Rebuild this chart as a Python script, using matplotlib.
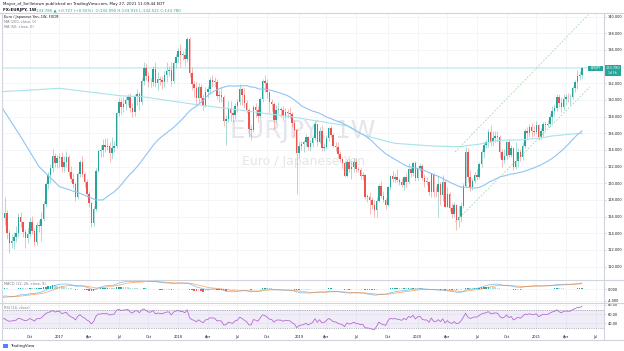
import math
import numpy as np
import pandas as pd
import matplotlib
matplotlib.use("Agg")
import matplotlib.pyplot as plt
from matplotlib.lines import Line2D
from matplotlib.patches import Rectangle

W, H = 624, 351

# EUR/JPY weekly bars, first bar = week of 2016-07-11
first_open = 111.1
close_2016 = [115.8, 116.4, 114.0, 112.8, 113.1, 113.5, 114.0, 115.9, 115.3, 114.2, 113.4, 113.9, 115.3,
              114.3, 112.9, 115.0, 114.9, 115.7, 117.5, 119.9, 121.0, 121.8, 123.3, 122.4, 123.0]
close_2017 = [123.2, 121.9, 122.6, 123.2, 121.4, 120.5, 119.9, 118.4, 121.1, 122.5, 121.1, 120.2, 118.7,
              117.6, 115.2, 116.9, 121.5, 123.9, 124.0, 124.6, 124.4, 124.5, 123.6, 124.2, 124.5, 128.4,
              129.8, 129.1, 129.5, 130.0, 130.3, 129.0, 128.5, 130.4, 130.7, 129.7, 132.3, 133.8, 132.9,
              132.1, 132.1, 133.7, 132.0, 132.5, 132.4, 132.2, 133.0, 133.5, 133.6, 132.3, 134.4, 135.2]
close_2018 = [135.9, 135.4, 135.4, 134.9, 137.3, 133.2, 131.9, 131.4, 130.2, 131.5, 130.2, 129.3, 131.0,
              131.3, 132.4, 132.2, 132.2, 130.5, 130.6, 130.4, 127.5, 127.7, 128.9, 128.4, 128.2, 129.3,
              129.7, 131.3, 130.6, 129.6, 128.8, 126.5, 126.4, 129.2, 128.8, 128.1, 130.1, 132.3, 132.0,
              131.0, 129.7, 129.5, 127.6, 128.8, 128.9, 128.8, 128.1, 128.6, 128.4, 128.3, 127.2, 126.4]
close_2019 = [123.6, 124.5, 124.7, 124.9, 125.5, 124.3, 124.8, 125.4, 127.1, 124.9, 126.3, 124.2, 124.4,
              125.4, 126.6, 125.8, 124.5, 124.4, 123.5, 122.9, 122.4, 120.9, 122.6, 121.7, 122.0, 122.6,
              121.7, 121.6, 120.9, 121.0, 118.4, 118.4, 118.0, 117.4, 116.8, 117.9, 119.7, 118.5, 118.0,
              117.4, 119.5, 120.9, 120.5, 120.7, 120.4, 120.2, 119.8, 120.7, 120.1, 121.7, 121.2, 122.4]
close_2020 = [120.6, 121.8, 122.1, 120.6, 120.2, 120.2, 118.9, 121.1, 119.0, 118.9, 119.9, 118.6, 120.2,
              117.2, 118.7, 117.0, 116.3, 117.4, 115.6, 115.9, 117.3, 119.7, 123.7, 120.8, 119.5, 120.3,
              121.0, 120.8, 122.3, 123.7, 124.6, 124.9, 126.2, 124.9, 125.4, 125.7, 125.6, 123.8, 122.8,
              123.3, 125.0, 123.4, 124.2, 121.9, 122.7, 123.8, 123.1, 124.5, 126.3, 126.0, 126.7, 126.3]
close_2021 = [126.2, 127.0, 125.5, 126.3, 127.1, 127.0, 127.1, 127.9, 128.7, 129.0, 130.3, 129.6, 129.2,
              130.1, 130.4, 130.3, 130.4, 131.4, 132.1, 132.9, 132.99, 133.78]

# wick lengths above / below the body
wick_up_2016 = [1.1, 2.0, 0.4, 0.4, 0.8, 0.6, 0.9, 0.5, 0.7, 0.2, 0.3, 0.7, 0.6, 0.8, 0.3, 0.3, 0.6, 0.8,
                0.4, 0.2, 0.3, 0.5, 0.8, 0.3, 0.4]
wick_dn_2016 = [0.3, 0.8, 0.7, 1.2, 0.6, 1.0, 0.6, 0.4, 0.6, 0.6, 1.2, 0.6, 0.3, 0.4, 0.4, 0.3, 0.7, 1.8,
                0.2, 0.3, 0.6, 1.0, 0.5, 0.4, 0.6]
wick_up_2017 = [0.4, 0.6, 0.7, 0.7, 0.2, 0.7, 0.7, 0.3, 0.2, 0.3, 0.8, 0.3, 0.3, 0.4, 0.2, 0.4, 0.3, 0.2,
                0.6, 0.7, 0.8, 0.9, 0.5, 1.4, 0.6, 0.2, 0.4, 0.4, 0.9, 0.5, 0.4, 0.5, 0.6, 0.3, 0.6, 0.3,
                0.3, 0.7, 0.6, 0.4, 0.5, 0.4, 0.8, 0.8, 0.4, 0.5, 0.5, 1.0, 0.5, 0.9, 0.3, 0.3]
wick_dn_2017 = [1.0, 0.6, 0.5, 0.6, 0.5, 0.4, 0.5, 0.5, 0.3, 0.4, 0.4, 0.7, 0.3, 0.5, 0.4, 0.3, 0.2, 0.2,
                0.8, 0.8, 0.7, 0.4, 1.0, 0.7, 0.5, 0.3, 0.3, 0.8, 0.6, 0.7, 0.6, 0.5, 0.6, 0.4, 1.0, 0.9,
                0.3, 0.5, 0.5, 0.6, 0.5, 0.4, 0.4, 0.8, 0.6, 0.9, 0.6, 0.8, 0.6, 0.6, 0.3, 0.6]
wick_up_2018 = [0.3, 0.8, 0.5, 0.8, 0.2, 0.3, 0.7, 0.4, 0.7, 0.5, 0.4, 0.5, 0.5, 0.4, 0.3, 0.6, 0.6, 0.3,
                0.6, 1.0, 0.2, 0.5, 1.0, 1.0, 0.4, 0.3, 0.4, 0.6, 0.3, 0.8, 0.4, 0.2, 0.5, 0.2, 0.4, 0.5,
                0.2, 0.2, 0.7, 0.5, 0.1, 0.4, 0.2, 0.6, 0.9, 0.3, 0.5, 0.4, 0.3, 0.7, 0.3, 0.4]
wick_dn_2018 = [0.7, 1.5, 0.6, 0.8, 0.3, 0.5, 0.7, 1.0, 0.9, 0.6, 0.5, 0.5, 0.2, 0.8, 0.6, 0.7, 0.6, 0.4,
                0.7, 0.6, 0.6, 2.9, 0.3, 0.9, 0.9, 0.5, 0.8, 0.3, 1.2, 0.6, 0.4, 1.0, 1.2, 0.3, 0.9, 0.7,
                0.4, 0.3, 1.0, 0.8, 1.3, 0.8, 1.1, 0.3, 0.5, 0.9, 0.5, 0.4, 0.6, 0.5, 0.5, 0.9]
wick_up_2019 = [0.1, 0.5, 0.4, 0.3, 0.4, 0.2, 0.4, 0.3, 0.4, 0.0, 0.4, 0.7, 0.4, 0.4, 0.2, 0.4, 0.2, 0.4,
                0.6, 0.4, 0.3, 0.3, 0.2, 0.4, 0.7, 0.4, 0.4, 0.3, 0.2, 0.4, 0.1, 0.3, 0.5, 0.3, 0.6, 0.4,
                0.2, 0.6, 0.6, 0.2, 0.2, 0.1, 0.6, 0.4, 1.0, 0.2, 0.4, 0.2, 0.5, 0.7, 0.3, 0.2]
wick_dn_2019 = [4.9, 0.6, 0.5, 0.9, 0.4, 0.3, 0.4, 0.4, 0.2, 0.4, 0.1, 0.3, 0.3, 0.3, 0.3, 0.3, 0.1, 0.5,
                0.5, 0.4, 0.6, 0.1, 0.1, 0.3, 1.2, 0.6, 0.3, 0.3, 0.4, 0.5, 0.3, 0.7, 1.7, 0.5, 0.9, 0.8,
                0.2, 0.3, 0.3, 0.5, 0.1, 0.3, 0.3, 0.4, 0.3, 0.4, 0.3, 0.6, 0.6, 0.2, 0.4, 0.3]
wick_up_2020 = [0.3, 0.2, 0.3, 0.2, 0.5, 0.6, 0.1, 0.1, 0.1, 0.7, 1.0, 0.3, 0.8, 0.2, 0.8, 0.3, 0.6, 0.3,
                0.1, 1.4, 0.5, 0.3, 0.7, 0.5, 0.8, 0.3, 0.4, 0.7, 0.3, 0.4, 0.4, 0.4, 0.3, 0.8, 0.9, 0.6,
                0.6, 0.2, 0.3, 0.8, 0.1, 0.3, 0.4, 0.2, 2.2, 0.4, 0.3, 0.5, 0.2, 0.4, 0.4, 0.5]
wick_dn_2020 = [0.3, 0.2, 0.3, 0.2, 0.7, 0.4, 0.3, 0.5, 0.6, 0.5, 3.0, 1.2, 0.7, 0.1, 0.1, 0.3, 0.5, 0.4,
                1.2, 0.8, 0.5, 0.3, 0.2, 0.6, 0.4, 0.3, 0.3, 0.4, 0.3, 0.4, 0.7, 0.4, 0.5, 0.4, 0.4, 0.5,
                0.6, 0.8, 0.9, 0.4, 0.4, 0.3, 0.2, 0.3, 0.2, 0.7, 0.4, 0.3, 0.3, 0.6, 0.4, 0.8]
wick_up_2021 = [0.6, 0.5, 0.1, 0.3, 0.2, 0.4, 0.5, 0.5, 0.6, 0.5, 0.4, 0.4, 0.7, 0.6, 0.3, 0.4, 0.3, 0.3,
                0.3, 0.7, 0.5, 0.135]
wick_dn_2021 = [0.5, 0.3, 0.3, 0.2, 0.8, 0.6, 0.3, 0.3, 0.7, 0.6, 0.3, 0.4, 0.6, 0.4, 0.7, 0.6, 0.9, 0.3,
                0.5, 0.8, 0.5, 0.469]

# moving averages before enough history exists
ma50_early_idx = [0, 8, 16, 25, 34, 41, 44, 48]
ma50_early = [129.0, 125.6, 122.0, 119.6, 118.8, 118.0, 118.0, 118.8]
ma200_early_idx = [0, 25, 52, 61, 86, 98, 126, 151, 159, 172, 187, 198]
ma200_early = [131.0, 131.4, 130.5, 130.4, 129.4, 129.0, 128.0, 126.9, 125.7, 124.8, 124.5, 124.4]

# indicator state before the first bar
ema12_seed, ema26_seed, signal_seed = 117.0, 119.6, -3.0
rsi_gain_seed, rsi_loss_seed = 0.85, 1.25

# drawn channel (bar index, price)
channel_x_up = [198.4, 256.7]
channel_up = [123.76, 140.2]
channel_x_dn = [198.4, 257.5]
channel_dn = [115.35, 131.56]
hline_level = 133.78

tick_months = ["2016-10", "2017-01", "2017-04", "2017-07", "2017-10", "2018-01", "2018-04", "2018-07",
               "2018-10", "2019-01", "2019-04", "2019-07", "2019-10", "2020-01", "2020-04", "2020-07",
               "2020-10", "2021-01", "2021-04", "2021-07"]
tick_labels = ["Oct", "2017", "Apr", "Jul", "Oct", "2018", "Apr", "Jul", "Oct", "2019", "Apr", "Jul",
               "Oct", "2020", "Apr", "Jul", "Oct", "2021", "Apr", "Jul"]

# ---------------------------------------------------------------
close = np.array(close_2016 + close_2017 + close_2018 + close_2019 + close_2020 + close_2021)
wu = np.array(wick_up_2016 + wick_up_2017 + wick_up_2018 + wick_up_2019 + wick_up_2020 + wick_up_2021)
wd = np.array(wick_dn_2016 + wick_dn_2017 + wick_dn_2018 + wick_dn_2019 + wick_dn_2020 + wick_dn_2021)
opn = np.concatenate([[first_open], close[:-1]])
high = np.maximum(opn, close) + wu
low = np.minimum(opn, close) - wd
n = len(close)
x = np.arange(n)

s = pd.Series(close)
ma50 = s.rolling(50).mean().to_numpy()
ma200 = s.rolling(200).mean().to_numpy()


def ema(vals, span, seed):
    a = 2.0 / (span + 1)
    out, e = [], seed
    for v in vals:
        e = a * v + (1 - a) * e
        out.append(e)
    return np.array(out)


macd = ema(close, 12, ema12_seed) - ema(close, 26, ema26_seed)
signal = ema(macd, 9, signal_seed)
hist = macd - signal

rsi = []
g, l = rsi_gain_seed, rsi_loss_seed
prev = first_open
for c in close:
    d = c - prev
    g = (g * 13 + max(d, 0)) / 14
    l = (l * 13 + max(-d, 0)) / 14
    rsi.append(100 - 100 / (1 + g / l))
    prev = c
rsi = np.array(rsi)

start = pd.Timestamp("2016-07-11")
tick_pos = [math.ceil((pd.Timestamp(m + "-01") - start).days / 7) for m in tick_months]

UP, DN = "#26a69a", "#ef5350"
GRID = "#eef1f6"
TXT = "#131722"
FS = 2.5

fig = plt.figure(figsize=(W / 100, H / 100), dpi=100)
fig.patch.set_facecolor("white")


def fx(px):
    return px / W


def fy(py):
    return 1 - py / H


def box(l_, t_, r_, b_):
    return [fx(l_), fy(b_), fx(r_) - fx(l_), fy(t_) - fy(b_)]


ax = fig.add_axes(box(2, 13, 604, 279))
axm = fig.add_axes(box(2, 280, 604, 302), sharex=ax)
axr = fig.add_axes(box(2, 303, 604, 332), sharex=ax)

for a in (ax, axm, axr):
    for sp in a.spines.values():
        sp.set_visible(False)
    a.yaxis.tick_right()
    a.tick_params(axis="y", length=1.5, width=0.4, pad=1, labelsize=FS, colors="#b2b5be", labelcolor=TXT)
    a.tick_params(axis="x", length=0, pad=2, labelsize=FS, labelcolor=TXT)
    a.set_xticks(tick_pos)
    a.grid(True, color=GRID, lw=0.5)
    a.set_axisbelow(True)
ax.set_xlim(-0.2, 263.7)
ax.tick_params(axis="x", labelbottom=False)
axm.tick_params(axis="x", labelbottom=False)
axr.set_xticklabels(tick_labels)

# main price pane
ylo, yhi = 108.51, 140.44
ax.set_ylim(ylo, yhi)
pt = list(range(110, 141, 2))
ax.set_yticks(pt)
# 134.000 sits under the last-price badge
ax.set_yticklabels(["" if v == 134 else f"{v:.3f}" for v in pt])

ax.text(0.5, 0.556, "EURJPY, 1W", transform=ax.transAxes, ha="center", va="center",
        fontsize=18, color="#e3e5ea", zorder=0)
ax.text(0.5, 0.44, "Euro / Japanese Yen", transform=ax.transAxes, ha="center", va="center",
        fontsize=9, color="#e3e5ea", zorder=0)

ax.axhline(hline_level, color="#b2ebf2", lw=1.2, alpha=0.6, zorder=1)

cols = np.where(close >= opn, UP, DN)
ax.vlines(x, low, high, colors=cols, lw=0.5, alpha=0.55, zorder=2)
body = np.abs(close - opn)
body = np.where(body < 0.06, 0.06, body)
ax.bar(x, body, bottom=np.minimum(opn, close), width=0.65, color=cols, lw=0, zorder=3)

ma200_x = ma200_early_idx + list(range(199, n))
ma200_y = ma200_early + list(ma200[199:])
ma50_x = ma50_early_idx + list(range(49, n))
ma50_y = ma50_early + list(ma50[49:])
ax.plot(ma200_x, ma200_y, color="#a6e3ec", lw=0.8, zorder=4)
ax.plot(ma50_x, ma50_y, color="#90c4f5", lw=0.8, zorder=4)

ax.plot(channel_x_up, channel_up, color="#a5d6a7", lw=0.6, dashes=(2, 2), zorder=4)
ax.plot(channel_x_dn, channel_dn, color="#a5d6a7", lw=0.6, dashes=(2, 2), zorder=4)

# MACD pane
axm.set_ylim(-4.4, 3.07)
axm.set_yticks([0, -4])
axm.set_yticklabels(["0.000", "-4.000"])
hcols = []
for i in range(n):
    prev_h = hist[i - 1] if i > 0 else hist[i]
    if hist[i] >= 0:
        hcols.append("#26a69a" if hist[i] >= prev_h else "#b2dfdb")
    else:
        hcols.append("#ffcdd2" if hist[i] >= prev_h else "#ff5252")
axm.bar(x, hist, width=0.65, color=hcols, lw=0)
axm.plot(x, macd, color="#2196f3", lw=0.6, alpha=0.55)
axm.plot(x, signal, color="#ff6d00", lw=0.6, alpha=0.55)

# RSI pane
axr.set_ylim(21, 84.3)
axr.set_yticks([40, 60, 80])
axr.set_yticklabels(["40.00", "60.00", "80.00"])
axr.axhspan(30, 70, color="#7e57c2", alpha=0.1, lw=0)
axr.axhline(70, color="#787b86", lw=0.4, dashes=(2, 2))
axr.axhline(30, color="#787b86", lw=0.4, dashes=(2, 2))
axr.plot(x, rsi, color="#b36bd4", lw=0.6)

# frame lines
LC = "#d1d4dc"
for yy in (12.5, 279.5, 302.5, 339.5):
    fig.add_artist(Line2D([0, 1], [fy(yy)] * 2, color=LC, lw=0.8))
fig.add_artist(Line2D([fx(604), fx(604)], [fy(12.5), fy(339.5)], color=LC, lw=0.8))
fig.add_artist(Line2D([fx(1.5), fx(1.5)], [fy(12.5), fy(339.5)], color=LC, lw=0.8))

# price badge
by = 13 + (yhi - hline_level) / (yhi - ylo) * 266
fig.add_artist(Rectangle((fx(588), fy(by + 2.5)), fx(603) - fx(588), 5 / H, color=UP, lw=0))
fig.text(fx(595.5), fy(by), "EURJPY", fontsize=2.2, color="white", ha="center", va="center")
fig.add_artist(Rectangle((fx(604), fy(by + 8)), fx(621) - fx(604), 11.5 / H, color=UP, lw=0))
fig.text(fx(612.5), fy(by), f"{hline_level:.3f}", fontsize=FS, color="white", ha="center", va="center")
fig.text(fx(612.5), fy(by + 5), "1d 5h", fontsize=2.2, color="white", ha="center", va="center")

# header and legends
fig.text(fx(3), fy(4), "Mayor_of_Snilletown published on TradingView.com, May 27, 2021 11:09:44 EDT",
         fontsize=2.9, color=TXT, va="center")
fig.text(fx(3), fy(10), "FX:EURJPY, 1W", fontsize=2.9, color=TXT, va="center", weight="bold")
fig.text(fx(36), fy(10), "133.780 \u25b2 +0.727 (+0.55%)  O:132.990 H:133.915 L:132.521 C:133.780",
         fontsize=2.9, color=UP, va="center")
fig.text(fx(4), fy(17), "Euro / Japanese Yen, 1W, FXCM", fontsize=FS, color=TXT, va="center")
fig.text(fx(4), fy(22), "MA (200, close, 0)", fontsize=FS, color="#787b86", va="center")
fig.text(fx(4), fy(27), "MA (50, close, 0)", fontsize=FS, color="#787b86", va="center")
fig.text(fx(4), fy(284), "MACD (12, 26, close, 9)", fontsize=FS, color="#787b86", va="center")
fig.text(fx(4), fy(308), "RSI (14, close)", fontsize=FS, color="#787b86", va="center")

fig.add_artist(Rectangle((fx(3), fy(348)), 5 / W, 4 / H, color="#2962ff", lw=0, alpha=0.8))
fig.text(fx(10), fy(346), "TradingView", fontsize=2.9, color=TXT, va="center")

fig.savefig("out.png", dpi=100)
